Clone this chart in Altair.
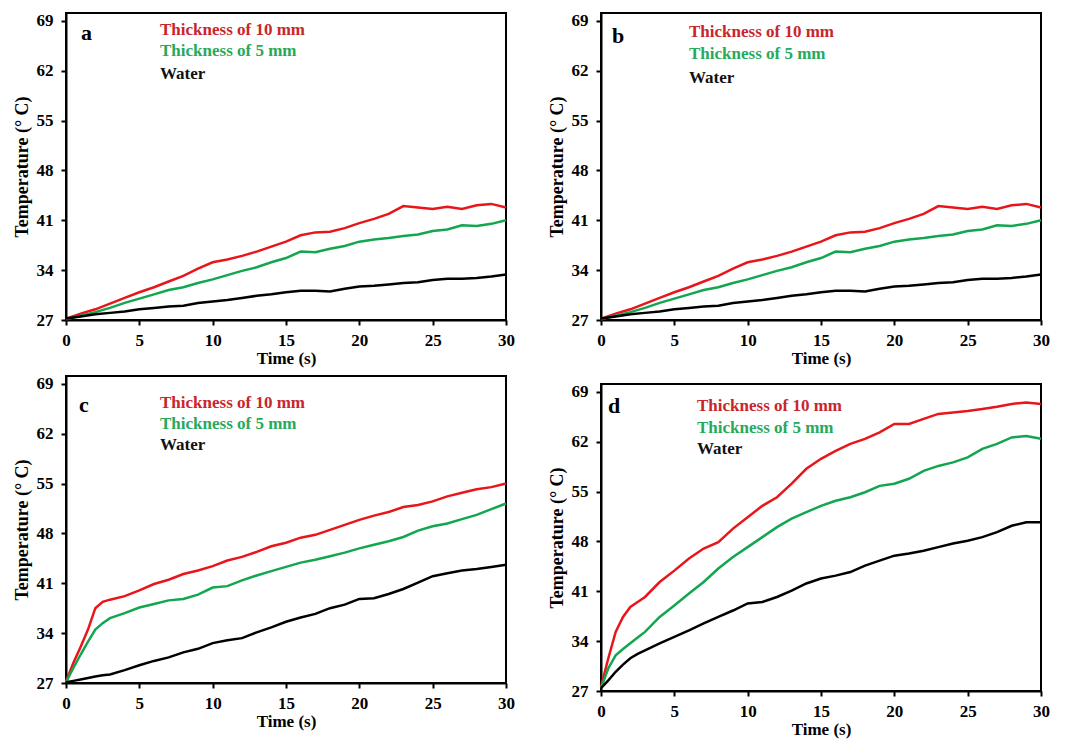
import altair as alt
import pandas as pd

# ---- data ----
TIME_AB = list(range(31))
A_10MM = [27.2, 27.9, 28.5, 29.3, 30.1, 30.9, 31.6, 32.4, 33.2, 34.2, 35.1, 35.5, 36.0, 36.6, 37.3,
          38.0, 38.9, 39.3, 39.4, 39.9, 40.6, 41.2, 41.9, 43.0, 42.8, 42.6, 42.9, 42.6, 43.1, 43.3, 42.8]
A_5MM = [27.1, 27.6, 28.1, 28.7, 29.4, 30.0, 30.6, 31.2, 31.6, 32.2, 32.7, 33.3, 33.9, 34.4, 35.1,
         35.7, 36.6, 36.5, 37.0, 37.4, 38.0, 38.3, 38.5, 38.8, 39.0, 39.5, 39.7, 40.3, 40.2, 40.5, 41.0]
A_WATER = [27.2, 27.5, 27.8, 28.0, 28.2, 28.5, 28.7, 28.9, 29.0, 29.4, 29.6, 29.8, 30.1, 30.4, 30.6,
           30.9, 31.1, 31.1, 31.0, 31.4, 31.7, 31.8, 32.0, 32.2, 32.3, 32.6, 32.8, 32.8, 32.9, 33.1, 33.4]

TIME_CD = [0, 0.5, 1, 1.5, 2, 2.5, 3] + list(range(4, 31))
C_10MM = [27.2, 29.8, 32.1, 34.5, 37.5, 38.4, 38.7, 39.2, 40.0, 40.9, 41.5, 42.3, 42.8, 43.4, 44.2,
          44.7, 45.4, 46.2, 46.7, 47.4, 47.8, 48.5, 49.2, 49.9, 50.5, 51.0, 51.7, 52.0, 52.5, 53.2,
          53.7, 54.2, 54.5, 55.0]
C_5MM = [27.1, 29.1, 31.0, 32.8, 34.5, 35.4, 36.1, 36.8, 37.6, 38.1, 38.6, 38.8, 39.4, 40.4, 40.6,
         41.4, 42.1, 42.7, 43.3, 43.9, 44.3, 44.8, 45.3, 45.9, 46.4, 46.9, 47.5, 48.4, 49.0, 49.4,
         50.0, 50.6, 51.4, 52.2]
C_WATER = [27.1, 27.3, 27.5, 27.7, 27.9, 28.1, 28.2, 28.8, 29.5, 30.1, 30.6, 31.3, 31.8, 32.6, 33.0,
           33.3, 34.1, 34.8, 35.6, 36.2, 36.7, 37.5, 38.0, 38.8, 38.9, 39.5, 40.2, 41.1, 42.0, 42.4,
           42.8, 43.0, 43.3, 43.6]
D_10MM = [27.6, 31.6, 35.3, 37.4, 38.8, 39.5, 40.2, 42.3, 43.9, 45.6, 47.0, 47.9, 49.8, 51.4, 53.0,
          54.2, 56.1, 58.2, 59.6, 60.7, 61.7, 62.4, 63.3, 64.5, 64.5, 65.2, 65.9, 66.1, 66.3, 66.6,
          66.9, 67.3, 67.5, 67.3]
D_5MM = [27.4, 30.2, 32.0, 32.9, 33.7, 34.5, 35.3, 37.4, 39.0, 40.7, 42.3, 44.2, 45.8, 47.2, 48.6,
         50.0, 51.2, 52.1, 53.0, 53.7, 54.2, 54.9, 55.8, 56.1, 56.8, 57.9, 58.6, 59.1, 59.8, 61.0,
         61.7, 62.6, 62.8, 62.4]
D_WATER = [27.4, 28.5, 29.7, 30.7, 31.6, 32.2, 32.7, 33.7, 34.6, 35.5, 36.5, 37.4, 38.3, 39.3, 39.5,
           40.2, 41.1, 42.1, 42.8, 43.2, 43.7, 44.6, 45.3, 46.0, 46.3, 46.7, 47.2, 47.7, 48.1, 48.6,
           49.3, 50.2, 50.7, 50.7]

SERIES = ["Thickness of 10 mm", "Thickness of 5 mm", "Water"]
X_TICKS = [0, 5, 10, 15, 20, 25, 30]
Y_TICKS = [27, 34, 41, 48, 55, 62, 69]

LINE_COLORS = ["#e8161b", "#13a650", "#000000"]
TEXT_COLORS = ["#c9262c", "#27a95c", "#111111"]
FONT = "Liberation Serif"
W, H = 440, 307


def panel(time, s10, s5, sw, letter, lab_x, lab_y, leg_x, leg_ys):
    rows = []
    for name, vals in zip(SERIES, [s10, s5, sw]):
        for t, v in zip(time, vals):
            rows.append({"t": t, "T": v, "series": name})
    df = pd.DataFrame(rows)
    lines = alt.Chart(df).mark_line(strokeWidth=2.5).encode(
        x=alt.X("t:Q", scale=alt.Scale(domain=[0, 30], nice=False),
                axis=alt.Axis(values=X_TICKS, title="Time (s)", labelFlush=False,
                              labelPadding=7, titlePadding=2)),
        y=alt.Y("T:Q", scale=alt.Scale(domain=[27, 70.1], nice=False),
                axis=alt.Axis(values=Y_TICKS, title="Temperature (° C)",
                              labelPadding=8, titlePadding=5, titleFontSize=18)),
        color=alt.Color("series:N", scale=alt.Scale(domain=SERIES, range=LINE_COLORS), legend=None),
        order="t:Q",
    )
    layers = [lines]
    for name, col, yy in zip(SERIES, TEXT_COLORS, leg_ys):
        layers.append(
            alt.Chart(pd.DataFrame({"label": [name]})).mark_text(
                align="left", baseline="middle", font=FONT,
                fontWeight="bold", fontSize=17, color=col).encode(
                x=alt.value(leg_x), y=alt.value(yy), text="label:N")
        )
    layers.append(
        alt.Chart(pd.DataFrame({"label": [letter]})).mark_text(
            align="left", baseline="middle", font=FONT,
            fontWeight="bold", fontSize=22, color="black").encode(
            x=alt.value(lab_x), y=alt.value(lab_y), text="label:N")
    )
    return alt.layer(*layers).properties(width=W, height=H)


pa = panel(TIME_AB, A_10MM, A_5MM, A_WATER, "a", 15, 20, 94, [17, 38, 61])
pb = panel(TIME_AB, A_10MM, A_5MM, A_WATER, "b", 11, 23, 88, [19, 41, 65])
pc = panel(TIME_CD, C_10MM, C_5MM, C_WATER, "c", 13, 29, 94, [27, 48, 69])
pd_ = panel(TIME_CD, D_10MM, D_5MM, D_WATER, "d", 7, 22, 96, [22, 44, 65])

chart = alt.hconcat(
    alt.vconcat(pa, pc, spacing=6),
    alt.vconcat(pb, pd_, spacing=14),
    spacing=31,
).properties(
    padding={"left": 4, "top": 2, "right": 5, "bottom": 5},
    background="white",
).configure_view(
    stroke="black", strokeWidth=2
).configure_axis(
    grid=False, domainColor="black", domainWidth=2, tickColor="black", tickWidth=2,
    tickSize=5, labelFont=FONT, labelFontWeight="bold", labelFontSize=17, labelColor="black",
    titleFont=FONT, titleFontWeight="bold", titleFontSize=17, titleColor="black",
)

chart.save("out.html", embed_options={"renderer": "svg", "actions": False})
